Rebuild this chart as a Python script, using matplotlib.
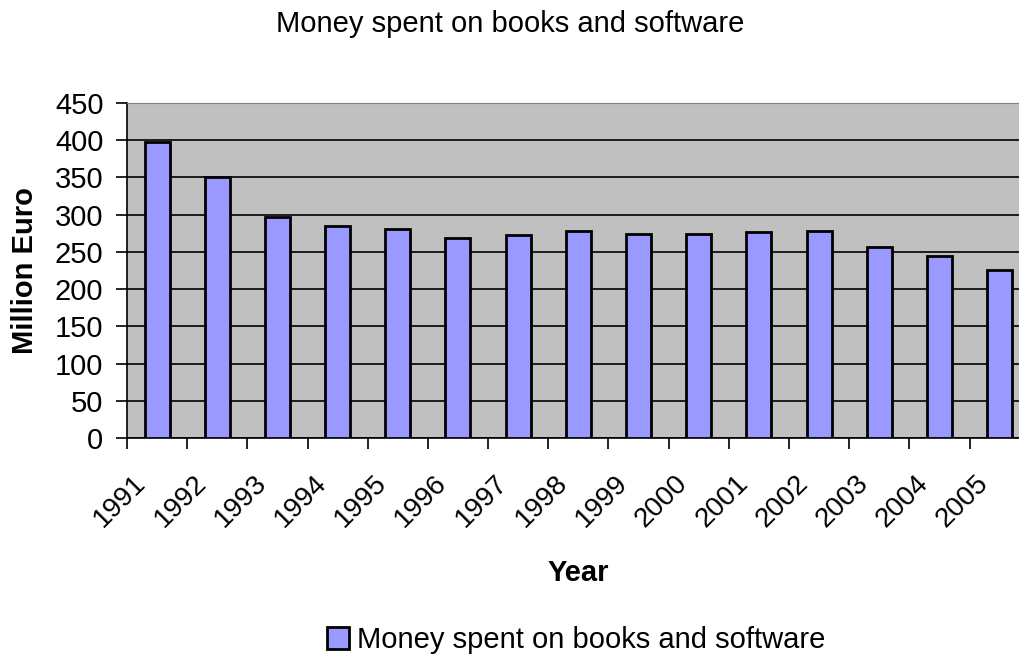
import numpy as np
import matplotlib.pyplot as plt
from matplotlib.ticker import FixedLocator

plt.rcParams['font.family'] = ['Liberation Sans', 'DejaVu Sans']

# data
years = ['1991', '1992', '1993', '1994', '1995', '1996', '1997', '1998',
         '1999', '2000', '2001', '2002', '2003', '2004', '2005']
spent = [398, 350, 297, 285, 281, 268, 272, 278, 274, 274, 276, 278, 257, 244, 226]
series_name = 'Money spent on books and software'

fig = plt.figure(figsize=(10.2, 6.6), dpi=100)
# plot area runs a little past the right edge, as in the original
ax = fig.add_axes([0.1245, 0.3364, 0.885, 0.5076])
ax.set_facecolor('#C0C0C0')

x = np.arange(len(years))
ax.bar(x, spent, width=0.415, color='#9999FF', edgecolor='black', linewidth=2,
       label=series_name, zorder=3)

ax.set_xlim(-0.5, len(years) - 0.5)
ax.set_ylim(0, 450)
ax.set_yticks(np.arange(0, 451, 50))
ax.yaxis.grid(True, color='black', linewidth=1.2, zorder=1)
ax.set_axisbelow(True)

# ticks between categories, labels near centres (nudged left like Excel does)
ax.xaxis.set_major_locator(FixedLocator(np.arange(-0.5, len(years), 1.0)))
ax.xaxis.set_major_formatter(plt.NullFormatter())
ax.xaxis.set_minor_locator(FixedLocator(x - 0.4))
ax.set_xticklabels(years, minor=True, rotation=45, ha='right',
                   rotation_mode='anchor', fontsize=20)
ax.tick_params(axis='x', which='minor', length=0, pad=23)
ax.tick_params(axis='x', which='major', length=8, width=1.2, direction='out')
ax.tick_params(axis='y', length=8, width=1.2, direction='out', labelsize=21, pad=9)

for s in ['left', 'bottom']:
    ax.spines[s].set_color('black')
    ax.spines[s].set_linewidth(1.2)
ax.spines['top'].set_color('#808080')
ax.spines['right'].set_color('#808080')

ax.set_ylabel('Million Euro', fontsize=21, fontweight='bold')
ax.yaxis.set_label_coords(-0.098, 0.5)
ax.set_xlabel('Year', fontsize=21, fontweight='bold')
ax.xaxis.set_label_coords(0.4994, -0.36)
fig.suptitle(series_name, fontsize=21, y=0.985)

fig.legend(loc='center', bbox_to_anchor=(0.565, 0.03), frameon=False,
           fontsize=21, handlelength=0.75, handleheight=0.75, handletextpad=0.3)

fig.savefig('out.png', dpi=100)
